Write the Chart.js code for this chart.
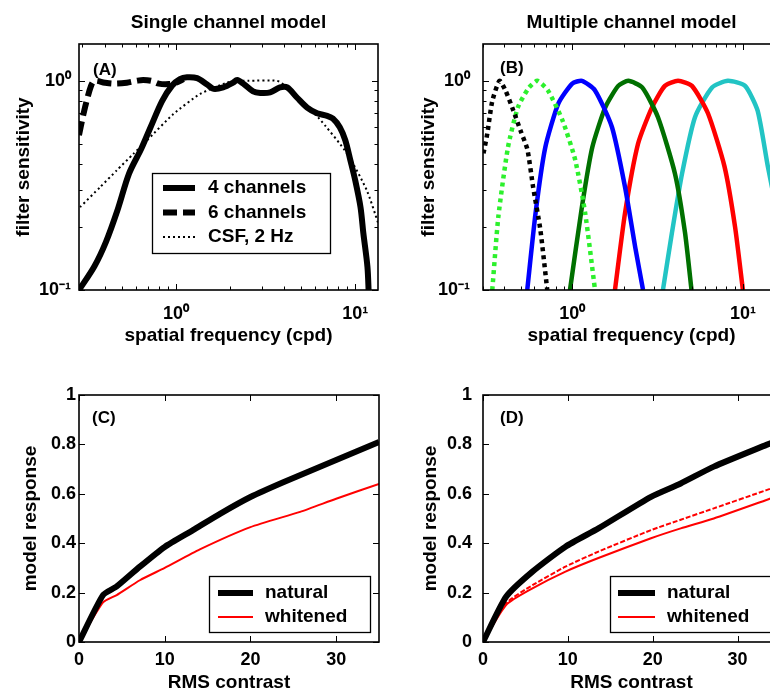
<!DOCTYPE html>
<html>
<head>
<meta charset="utf-8">
<script src="https://cdn.jsdelivr.net/npm/chart.js@4"></script>
<style>
html,body{margin:0;padding:0;background:#fff;overflow:hidden;width:770px;height:694px;position:relative;}
.p{position:absolute;}
canvas{display:block;}
</style>
</head>
<body>
<div class="p" style="left:0;top:0;"><canvas id="cA" width="385" height="360"></canvas></div>
<div class="p" style="left:385px;top:0;"><canvas id="cB" width="415" height="360"></canvas></div>
<div class="p" style="left:0;top:347px;"><canvas id="cC" width="385" height="347"></canvas></div>
<div class="p" style="left:385px;top:347px;"><canvas id="cD" width="415" height="347"></canvas></div>
<script>
// ---------------- DATA ----------------
// Panel A : single channel model
const freqA4 = [0.287,0.35,0.406,0.47,0.546,0.64,0.72,0.835,0.95,1.05,1.15,1.31,1.49,1.62,1.83,2.08,2.19,2.37,2.69,2.95,3.35,3.8,4.17,4.74,5.39,6.13,6.97,7.5,8.2,8.8,9.4,10.0,10.7,11.1,11.7,11.9];
const sensA4 = [0.1,0.13,0.17,0.24,0.36,0.475,0.6,0.8,0.95,1.02,1.04,1.03,0.96,0.915,0.93,0.98,1.01,0.97,0.89,0.875,0.88,0.93,0.93,0.83,0.745,0.70,0.68,0.66,0.60,0.52,0.416,0.334,0.249,0.187,0.129,0.095];
const freqA6 = [0.287,0.30,0.314,0.335,0.35,0.40,0.45,0.53,0.6,0.655,0.73,0.8,0.91,1.0,1.1];
const sensA6 = [0.55,0.66,0.78,0.946,1.0,0.98,0.97,0.98,1.0,1.01,1.0,0.97,0.965,0.98,1.02];
const freqCSF = [0.291,0.376,0.466,0.578,0.686,0.966,1.36,1.92,2.28,2.53,3.66,4.17,4.74,5.39,6.2,9.0,11.6,13.4];
const sensCSF = [0.249,0.31,0.373,0.448,0.518,0.694,0.865,0.98,1.0,1.0,1.0,0.93,0.83,0.745,0.67,0.45,0.30,0.21];
const legendA = ['4 channels','6 channels','CSF, 2 Hz'];

// Panel B : multiple channel model
const freqB1 = [0.302,0.318,0.34,0.375,0.406,0.452,0.497,0.546,0.59,0.65,0.714];
const sensB1 = [0.45,0.56,0.80,1.0,0.90,0.72,0.58,0.47,0.31,0.195,0.1];
const freqB2 = [0.34,0.369,0.42,0.48,0.553,0.624,0.72,0.875,1.04,1.19,1.36];
const sensB2 = [0.1,0.224,0.48,0.745,0.92,1.0,0.9,0.65,0.42,0.234,0.1];
const freqB3 = [0.545,0.61,0.695,0.83,1.0,1.14,1.36,1.71,2.04,2.34,2.6];
const sensB3 = [0.1,0.234,0.48,0.78,0.97,1.0,0.9,0.6,0.31,0.16,0.1];
const freqB4 = [0.97,1.14,1.31,1.56,1.86,2.13,2.57,3.18,4.0,4.58,5.0];
const sensB4 = [0.1,0.25,0.48,0.745,0.946,1.0,0.93,0.67,0.36,0.188,0.1];
const freqB5 = [1.78,2.04,2.43,2.93,3.49,4.17,5.03,6.24,7.8,9.0,10.0];
const sensB5 = [0.1,0.234,0.5,0.745,0.946,1.0,0.946,0.7,0.39,0.2,0.1];
const freqB6 = [3.4,3.84,4.4,5.24,6.6,8.17,10.3,12.2,14.0,16.5];
const sensB6 = [0.1,0.188,0.36,0.67,0.93,1.0,0.946,0.72,0.39,0.2];

// Panel C
const contrastNatC = [0,2.8,4.4,7.1,10,13.3,16.5,20,23.9,30,35];
const naturalC     = [0,0.19,0.225,0.305,0.385,0.453,0.52,0.587,0.648,0.737,0.81];
const contrastWhC  = [0,2.8,4.4,7.1,10,14.1,20,25.8,30,35];
const whitenedC    = [0,0.16,0.19,0.25,0.30,0.375,0.465,0.527,0.58,0.64];

// Panel D
const contrastD    = [0,2.72,5.83,9.72,13.6,19.8,23.3,27.2,33.4,35];
const naturalD     = [0,0.183,0.285,0.386,0.46,0.588,0.642,0.71,0.798,0.82];
const whitenedD    = [0,0.15,0.217,0.285,0.34,0.42,0.46,0.50,0.575,0.595];
const whitenedD2   = [0,0.157,0.23,0.305,0.366,0.453,0.495,0.541,0.615,0.635];
const legendCD = ['natural','whitened'];

// Titles and ticks
const titleA = 'Single channel model';
const titleB = 'Multiple channel model';
const xTitleAB = 'spatial frequency (cpd)';
const yTitleAB = 'filter sensitivity';
const xTitleCD = 'RMS contrast';
const yTitleCD = 'model response';
const logTickValues = [0.1, 1, 10];
const logTickLabels = ['10\u207B\u00B9', '10\u2070', '10\u00B9'];
const contrastTicks = [0, 10, 20, 30];
const responseTicks = [0, 0.2, 0.4, 0.6, 0.8, 1];
const responseTickLabels = ['0', '0.2', '0.4', '0.6', '0.8', '1'];

// ---------------- RENDERING ----------------
const FAM = "'Liberation Sans', Arial, Helvetica, sans-serif";
const fnt = (s) => ({family: FAM, size: s, weight: 'bold'});
const pts = (xs, ys) => xs.map((x, i) => ({x: x, y: ys[i]}));

const framePlugin = {
  id: 'frame',
  afterDatasetsDraw(chart, args, o) {
    const ctx = chart.ctx, a = chart.chartArea;
    const xs = chart.scales.x, ys = chart.scales.y;
    ctx.save();
    ctx.strokeStyle = '#000';
    ctx.lineWidth = 1;
    const seg = (x0, y0, x1, y1) => { ctx.beginPath(); ctx.moveTo(x0, y0); ctx.lineTo(x1, y1); ctx.stroke(); };
    const tickVals = (sc, isLog, major) => {
      const out = [];
      if (isLog) {
        const lo = Math.floor(Math.log10(sc.min)), hi = Math.ceil(Math.log10(sc.max));
        for (let n = lo; n <= hi; n++) for (let k = 1; k <= 9; k++) {
          const v = k * Math.pow(10, n);
          if (v >= sc.min * 0.999 && v <= sc.max * 1.001) out.push({v: v, major: k === 1});
        }
      } else {
        major.forEach(v => out.push({v: v, major: true}));
      }
      return out;
    };
    tickVals(xs, o.logX, o.xMajor).forEach(t => {
      const p = Math.round(xs.getPixelForValue(t.v)) + 0.5, L = t.major ? 6 : 3.5;
      seg(p, a.bottom, p, a.bottom - L); seg(p, a.top, p, a.top + L);
    });
    tickVals(ys, o.logY, o.yMajor).forEach(t => {
      const p = Math.round(ys.getPixelForValue(t.v)) + 0.5, L = t.major ? 6 : 3.5;
      seg(a.left, p, a.left + L, p); seg(a.right, p, a.right - L, p);
    });
    ctx.lineWidth = 1.6;
    ctx.strokeRect(a.left, a.top, a.right - a.left, a.bottom - a.top);
    ctx.restore();
  }
};

const notePlugin = {
  id: 'note',
  afterDraw(chart, args, o) {
    const ctx = chart.ctx, a = chart.chartArea;
    ctx.save();
    ctx.fillStyle = '#000';
    ctx.textBaseline = 'middle';
    ctx.textAlign = 'left';
    ctx.font = 'bold 17px ' + FAM;
    ctx.fillText(o.label, a.left + o.labelDx, a.top + o.labelDy);
    const L = o.legend;
    if (L) {
      ctx.fillStyle = '#fff';
      ctx.fillRect(L.x, L.y, L.w, L.h);
      ctx.lineWidth = 1.3;
      ctx.strokeStyle = '#000';
      ctx.strokeRect(L.x + 0.5, L.y + 0.5, L.w, L.h);
      ctx.font = 'bold ' + L.size + 'px ' + FAM;
      L.items.forEach((idx, i) => {
        const ds = chart.data.datasets[idx];
        const y = L.y + L.row0 + i * L.rowH;
        ctx.beginPath();
        ctx.setLineDash(ds.borderDash || []);
        ctx.lineWidth = ds.borderWidth;
        ctx.strokeStyle = ds.borderColor;
        ctx.moveTo(L.x + L.l0, y); ctx.lineTo(L.x + L.l1, y); ctx.stroke();
        ctx.setLineDash([]);
        ctx.fillStyle = '#000';
        ctx.fillText(ds.label, L.x + L.tx, y);
      });
    }
    ctx.restore();
  }
};

function logAxisX(min, max, tickPad, titleBottom, height) {
  return {
    type: 'logarithmic', position: 'bottom', min: min, max: max,
    afterBuildTicks: s => { s.ticks = logTickValues.filter(v => v >= min && v <= max).map(v => ({value: v})); },
    ticks: { autoSkip: false, maxRotation: 0, color: '#000', font: fnt(18), padding: tickPad,
      callback: v => logTickLabels[logTickValues.indexOf(v)] },
    grid: { display: false, drawTicks: false }, border: { display: false },
    title: { display: true, text: xTitleAB, color: '#000', font: fnt(19), padding: {top: 0, bottom: titleBottom} },
    afterFit: s => { s.height = height; }
  };
}
function logAxisY(min, max, tickPad, titleLeft, width) {
  return {
    type: 'logarithmic', position: 'left', min: min, max: max,
    afterBuildTicks: s => { s.ticks = logTickValues.filter(v => v >= min && v <= max).map(v => ({value: v})); },
    ticks: { autoSkip: false, color: '#000', font: fnt(18), padding: tickPad,
      callback: v => logTickLabels[logTickValues.indexOf(v)] },
    grid: { display: false, drawTicks: false }, border: { display: false },
    title: { display: true, text: yTitleAB, color: '#000', font: fnt(19), padding: {top: titleLeft, bottom: 0} },
    afterFit: s => { s.width = width; }
  };
}
function linAxisX(tickPad, titleBottom, height) {
  return {
    type: 'linear', position: 'bottom', min: 0, max: 35,
    afterBuildTicks: s => { s.ticks = contrastTicks.map(v => ({value: v})); },
    ticks: { autoSkip: false, maxRotation: 0, color: '#000', font: fnt(18), padding: tickPad, callback: v => String(v) },
    grid: { display: false, drawTicks: false }, border: { display: false },
    title: { display: true, text: xTitleCD, color: '#000', font: fnt(19), padding: {top: 0, bottom: titleBottom} },
    afterFit: s => { s.height = height; }
  };
}
function linAxisY(tickPad, titleLeft, width) {
  return {
    type: 'linear', position: 'left', min: 0, max: 1,
    afterBuildTicks: s => { s.ticks = responseTicks.map(v => ({value: v})); },
    ticks: { autoSkip: false, color: '#000', font: fnt(18), padding: tickPad,
      callback: v => responseTickLabels[responseTicks.indexOf(v)] },
    grid: { display: false, drawTicks: false }, border: { display: false },
    title: { display: true, text: yTitleCD, color: '#000', font: fnt(19), padding: {top: titleLeft, bottom: 0} },
    afterFit: s => { s.width = width; }
  };
}

function line(label, xs, ys, color, width, dash, tension) {
  return { label: label, data: pts(xs, ys), borderColor: color, backgroundColor: color,
    borderWidth: width, borderDash: dash || [], pointRadius: 0, showLine: true, fill: false,
    tension: tension === undefined ? 0.35 : tension, clip: 0, borderCapStyle: 'butt', borderJoinStyle: 'round' };
}

function base(extra) {
  return Object.assign({ responsive: false, animation: false, devicePixelRatio: 1 }, extra);
}

// Panel A
new Chart(document.getElementById('cA'), {
  type: 'scatter',
  data: { datasets: [
    line(legendA[0], freqA4, sensA4, '#000', 6, [], 0.3),
    line(legendA[1], freqA6, sensA6, '#000', 6, [14, 6], 0.3),
    line(legendA[2], freqCSF, sensCSF, '#000', 2, [2, 3], 0.2)
  ]},
  plugins: [framePlugin, notePlugin],
  options: base({
    layout: { padding: { left: 0, right: 7, top: 0, bottom: 0 } },
    scales: { x: logAxisX(0.287, 13.4, 13, 13, 70), y: logAxisY(0.1, 1.5, 8, 12.6, 79) },
    plugins: {
      legend: { display: false }, tooltip: { enabled: false },
      title: { display: true, text: titleA, fullSize: false, color: '#000', font: fnt(19), padding: { top: 11, bottom: 10.2 } },
      frame: { logX: true, logY: true },
      note: { label: '(A)', labelDx: 14, labelDy: 26,
        legend: { x: 152, y: 173, w: 178, h: 80, row0: 15, rowH: 24.5, l0: 11, l1: 43, tx: 56, size: 19, items: [0, 1, 2] } }
    }
  })
});

// Panel B
new Chart(document.getElementById('cB'), {
  type: 'scatter',
  data: { datasets: [
    line('channel 1', freqB1, sensB1, '#000', 4.5, [4, 4], 0.2),
    line('channel 2', freqB2, sensB2, '#2cf02c', 4.5, [4, 4], 0.2),
    line('channel 3', freqB3, sensB3, '#0000ff', 4.5, [], 0.2),
    line('channel 4', freqB4, sensB4, '#007000', 4.5, [], 0.2),
    line('channel 5', freqB5, sensB5, '#ff0000', 4.5, [], 0.2),
    line('channel 6', freqB6, sensB6, '#22c4c4', 4.5, [], 0.2)
  ]},
  plugins: [framePlugin, notePlugin],
  options: base({
    layout: { padding: { left: 0, right: 20, top: 0, bottom: 0 } },
    scales: { x: logAxisX(0.302, 16.5, 13, 13, 70), y: logAxisY(0.1, 1.5, 13, 32.6, 98) },
    plugins: {
      legend: { display: false }, tooltip: { enabled: false },
      title: { display: true, text: titleB, fullSize: false, color: '#000', font: fnt(19), padding: { top: 11, bottom: 10.2 } },
      frame: { logX: true, logY: true },
      note: { label: '(B)', labelDx: 17, labelDy: 24 }
    }
  })
});

// Panel C
new Chart(document.getElementById('cC'), {
  type: 'scatter',
  data: { datasets: [
    line(legendCD[0], contrastNatC, naturalC, '#000', 6, [], 0.2),
    line(legendCD[1], contrastWhC, whitenedC, '#ff0000', 2, [], 0.2)
  ]},
  plugins: [framePlugin, notePlugin],
  options: base({
    layout: { padding: { left: 0, right: 6, top: 48, bottom: 0 } },
    scales: { x: linAxisX(7, 0, 52), y: linAxisY(3, 19.6, 79) },
    plugins: {
      legend: { display: false }, tooltip: { enabled: false },
      frame: { logX: false, logY: false, xMajor: contrastTicks, yMajor: responseTicks },
      note: { label: '(C)', labelDx: 13, labelDy: 23,
        legend: { x: 209, y: 229, w: 161, h: 56, row0: 17, rowH: 24, l0: 9, l1: 44, tx: 56, size: 19, items: [0, 1] } }
    }
  })
});

// Panel D
new Chart(document.getElementById('cD'), {
  type: 'scatter',
  data: { datasets: [
    line(legendCD[0], contrastD, naturalD, '#000', 6, [], 0.2),
    line(legendCD[1], contrastD, whitenedD, '#ff0000', 2, [], 0.2),
    line('whitened (dashed)', contrastD, whitenedD2, '#ff0000', 2, [5, 2], 0.2)
  ]},
  plugins: [framePlugin, notePlugin],
  options: base({
    layout: { padding: { left: 0, right: 20, top: 48, bottom: 0 } },
    scales: { x: linAxisX(7, 0, 52), y: linAxisY(11, 34.6, 98) },
    plugins: {
      legend: { display: false }, tooltip: { enabled: false },
      frame: { logX: false, logY: false, xMajor: contrastTicks, yMajor: responseTicks },
      note: { label: '(D)', labelDx: 17, labelDy: 23,
        legend: { x: 225, y: 229, w: 161, h: 56, row0: 17, rowH: 24, l0: 8, l1: 45, tx: 57, size: 19, items: [0, 1] } }
    }
  })
});
</script>
</body>
</html>
